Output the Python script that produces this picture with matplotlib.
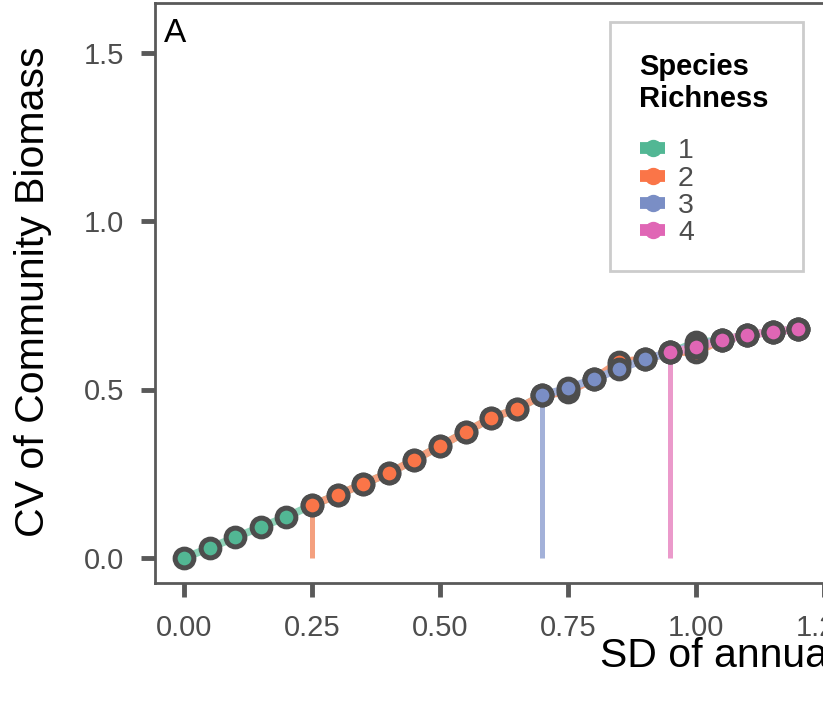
import matplotlib
matplotlib.use("Agg")
import matplotlib.pyplot as plt
from matplotlib.lines import Line2D
from matplotlib.patches import Rectangle

plt.rcParams['font.family'] = ['Liberation Sans', 'DejaVu Sans']

# ---- data ----
richness_labels = ["1", "2", "3", "4"]
colors = ["#52B794", "#FA7548", "#7A8EC5", "#E066B5"]
line_colors = ["#8ED3B8", "#F4A07F", "#A3B1D9", "#EB9ACB"]

x1 = [0.00, 0.05, 0.10, 0.15, 0.20, 0.25, 0.30, 0.35, 0.40, 0.45, 0.50, 0.55,
      0.60, 0.65, 0.70, 0.75, 0.80, 0.85, 0.90, 0.95, 1.00, 1.05, 1.10, 1.15, 1.20]
y1 = [0.000, 0.030, 0.061, 0.092, 0.122, 0.157, 0.187, 0.220, 0.252, 0.291, 0.332, 0.374,
      0.415, 0.442, 0.483, 0.500, 0.531, 0.575, 0.590, 0.610, 0.640, 0.646, 0.662, 0.671, 0.680]
x2 = [0.25, 0.30, 0.35, 0.40, 0.45, 0.50, 0.55, 0.60, 0.65, 0.70, 0.75, 0.80,
      0.85, 0.90, 0.95, 1.00, 1.05, 1.10, 1.15, 1.20]
y2 = [0.157, 0.187, 0.220, 0.252, 0.291, 0.332, 0.374, 0.415, 0.442, 0.483, 0.493, 0.531,
      0.582, 0.590, 0.610, 0.612, 0.646, 0.662, 0.671, 0.680]
x3 = [0.70, 0.75, 0.80, 0.85, 0.90, 0.95, 1.00, 1.05, 1.10, 1.15, 1.20]
y3 = [0.483, 0.504, 0.531, 0.560, 0.590, 0.610, 0.632, 0.646, 0.662, 0.671, 0.680]
x4 = [0.95, 1.00, 1.05, 1.10, 1.15, 1.20]
y4 = [0.610, 0.625, 0.646, 0.662, 0.671, 0.680]
series_x = [x1, x2, x3, x4]
series_y = [y1, y2, y3, y4]

# thresholds where a richness level first appears
thresh_x = [0.25, 0.70, 0.95]
thresh_y = [0.157, 0.483, 0.610]
thresh_idx = [1, 2, 3]

x_ticks = [0.00, 0.25, 0.50, 0.75, 1.00, 1.25]
x_ticklabels = ["0.00", "0.25", "0.50", "0.75", "1.00", "1.25"]
y_ticks = [0.0, 0.5, 1.0, 1.5]
y_ticklabels = ["0.0", "0.5", "1.0", "1.5"]

W, H = 823, 712
fig = plt.figure(figsize=(W / 100, H / 100), dpi=100)
left_px, right_px, top_px, bottom_px = 155, 952, 3, 583
ax = fig.add_axes([left_px / W, 1 - bottom_px / H, (right_px - left_px) / W,
                   (bottom_px - top_px) / H])


def fx(px):
    return px / W


def fy(py):
    return 1 - py / H


# lines layer
for xs, ys, lc in zip(series_x, series_y, line_colors):
    ax.plot(xs, ys, color=lc, lw=5.5, solid_capstyle='butt', zorder=2)
# vertical threshold segments
for tx, ty, i in zip(thresh_x, thresh_y, thresh_idx):
    ax.plot([tx, tx], [0, ty], color=line_colors[i], lw=3.6, solid_capstyle='butt', zorder=2)
# points layer
for xs, ys, c in zip(series_x, series_y, colors):
    ax.plot(xs, ys, ls='none', marker='o', ms=13.5, mfc=c, mec='#4D4D4D', mew=3.6, zorder=3)

ax.set_xlim(-0.0566, (right_px - 184) / 512)
ax.set_ylim((558 - bottom_px) / 337, (558 - top_px) / 337)
ax.set_xticks(x_ticks)
ax.set_xticklabels(x_ticklabels)
ax.set_yticks(y_ticks)
ax.set_yticklabels(y_ticklabels)
ax.tick_params(axis='both', length=10, width=3.5, color='#595959', labelcolor='#4D4D4D',
               labelsize=21)
ax.tick_params(axis='x', pad=12)
ax.tick_params(axis='y', pad=12)
for s in ax.spines.values():
    s.set_color('#595959')
    s.set_linewidth(2)

fig.text(fx(33), fy(292), "CV of Community Biomass", fontsize=29.5, color='black',
         rotation=90, ha='center', va='center')
fig.text(fx(600), fy(656), "SD of annual temperature", fontsize=29.5, color='black',
         ha='left', va='center')
fig.text(fx(164), fy(33), "A", fontsize=24, color='black', ha='left', va='center')

# legend (drawn by hand to match the reference layout)
fig.add_artist(Rectangle((fx(610), fy(271)), (803 - 610) / W, (271 - 22) / H,
                         transform=fig.transFigure, facecolor='white',
                         edgecolor='#CCCCCC', lw=2, zorder=5))
fig.text(fx(639), fy(75), "Species", fontsize=21, fontweight='bold', color='black',
         ha='left', va='baseline', zorder=6)
fig.text(fx(639), fy(107), "Richness", fontsize=21, fontweight='bold', color='black',
         ha='left', va='baseline', zorder=6)
key_y = [148, 176, 203, 230]
for lab, c, ky in zip(richness_labels, colors, key_y):
    fig.add_artist(Line2D([fx(640), fx(665)], [fy(ky), fy(ky)], color=c, lw=8.5,
                          solid_capstyle='butt', transform=fig.transFigure, zorder=6))
    fig.add_artist(Line2D([fx(652.5)], [fy(ky)], ls='none', marker='o', ms=12.5, mfc=c,
                          mec=c, mew=0, transform=fig.transFigure, zorder=7))
    fig.text(fx(678), fy(ky), lab, fontsize=20.5, color='#4D4D4D', ha='left',
             va='center_baseline', zorder=7)

fig.savefig("out.png", dpi=100)
